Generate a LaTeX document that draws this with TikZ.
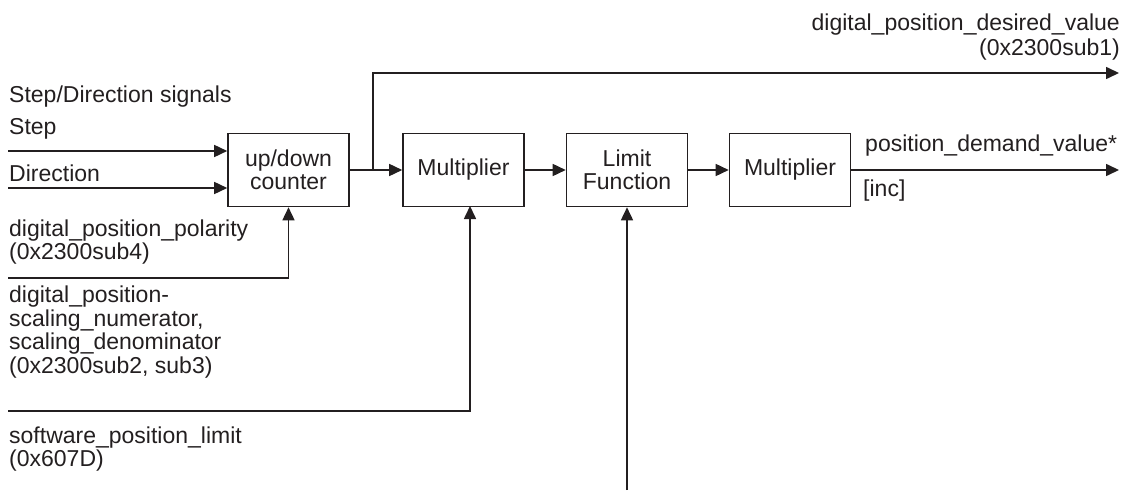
\documentclass[tikz,border=0pt]{standalone}
\usepackage{fontspec}
\setmainfont{Liberation Sans}
\usetikzlibrary{arrows.meta}
\definecolor{ink}{HTML}{231F20}
\begin{document}
\begin{tikzpicture}[x=1pt,y=-1pt,
  font=\fontsize{23}{23.5}\selectfont,
  every node/.style={text=ink},
  blockbox/.style={draw=ink, line width=1.6pt, minimum width=121pt, minimum height=73pt, align=center, inner sep=0pt},
  lbl/.style={inner sep=0pt, align=left},
  arr/.style={draw=ink, line width=1.6pt, -{Triangle[length=13pt,width=12pt]}}]
\useasboundingbox (0,0) rectangle (1126,497);

% blocks
\node[blockbox] (udc) at (288.5,170) {up/down\\counter};
\node[blockbox] (mul1) at (463.5,170) {Multiplier};
\node[blockbox] (lim) at (627,170) {Limit\\Function};
\node[blockbox] (mul2) at (790,170) {Multiplier};

% left labels
\node[lbl, anchor=west] (sds) at (9,97) {Step/Direction signals};
\node[lbl, anchor=west] (steplbl) at (9,129) {Step};
\node[lbl, anchor=west] (dirlbl) at (9,173) {Direction};
\node[lbl, anchor=west] (pol) at (9,242) {digital\_position\_polarity\\(0x2300sub4)};
\node[lbl, anchor=west] (scl) at (9,332) {digital\_position-\\scaling\_numerator,\\scaling\_denominator\\(0x2300sub2, sub3)};
\node[lbl, anchor=west] (spl) at (9,449) {software\_position\_limit\\(0x607D)};

% right labels
\node[lbl, anchor=east, align=right, font=\fontsize{23}{25.5}\selectfont] (dpd) at (1120,37) {digital\_position\_desired\_value\\(0x2300sub1)};
\node[lbl, anchor=west] (pdv) at (865,146) {position\_demand\_value*};
\node[lbl, anchor=west] (inc) at (863,191) {[inc]};

% connector ends
\coordinate (stepin) at (8,151);
\coordinate (dirin) at (8,188);
\coordinate (polin) at (8,278);
\coordinate (sclin) at (8,411);
\coordinate (limin) at (627,490);
\coordinate (br) at (373,170);
\coordinate (outtop) at (1119,73);
\coordinate (outmain) at (1119,170);
\coordinate (mul1in) at (470,206);

% connectors
\draw[arr] (stepin) -- (udc.west |- stepin);
\draw[arr] (dirin) -- (udc.west |- dirin);
\draw[arr] (polin) -| (udc.south);
\draw[arr] (sclin) -| (mul1in);
\draw[arr] (limin) -- (lim.south);
\draw[arr] (udc.east) -- (mul1.west);
\draw[arr] (br) |- (outtop);
\draw[arr] (mul1.east) -- (lim.west);
\draw[arr] (lim.east) -- (mul2.west);
\draw[arr] (mul2.east) -- (outmain);
\end{tikzpicture}
\end{document}
